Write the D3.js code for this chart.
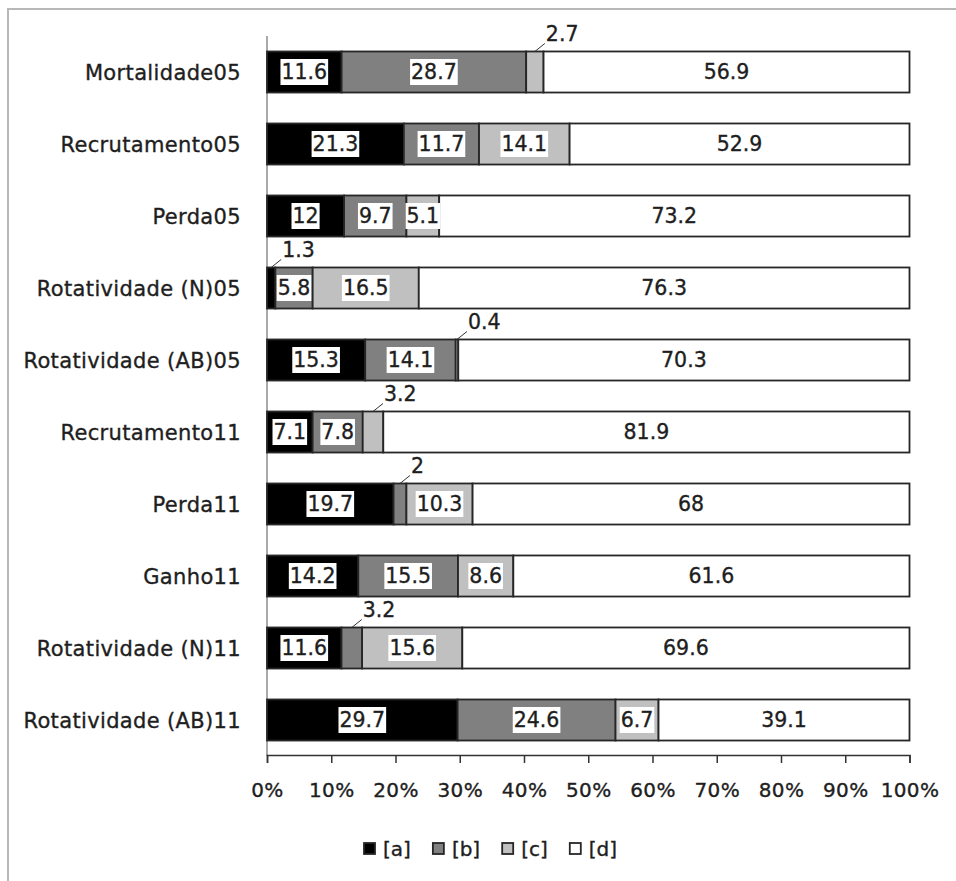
<!DOCTYPE html>
<html>
<head>
<meta charset="utf-8">
<script src="https://cdn.jsdelivr.net/npm/d3@7"></script>
<style>
  html, body { margin: 0; padding: 0; background: #fff; }
  svg { display: block; }
  text { font-family: "DejaVu Sans", Verdana, sans-serif; fill: #1e1e1e;
         stroke: #1e1e1e; stroke-width: 0.35px; }
</style>
</head>
<body>
<svg id="chart" width="956" height="881"></svg>
<script>
// Categories, top to bottom
const categories = [
  "Mortalidade05", "Recrutamento05", "Perda05", "Rotatividade (N)05",
  "Rotatividade (AB)05", "Recrutamento11", "Perda11", "Ganho11",
  "Rotatividade (N)11", "Rotatividade (AB)11"
];
const seriesNames = ["[a]", "[b]", "[c]", "[d]"];
const seriesA = [11.6, 21.3, 12, 1.3, 15.3, 7.1, 19.7, 14.2, 11.6, 29.7];
const seriesB = [28.7, 11.7, 9.7, 5.8, 14.1, 7.8, 2, 15.5, 3.2, 24.6];
const seriesC = [2.7, 14.1, 5.1, 16.5, 0.4, 3.2, 10.3, 8.6, 15.6, 6.7];
const seriesD = [56.9, 52.9, 73.2, 76.3, 70.3, 81.9, 68, 61.6, 69.6, 39.1];
const tickValues = [0, 0.1, 0.2, 0.3, 0.4, 0.5, 0.6, 0.7, 0.8, 0.9, 1];
const colors = ["#000000", "#808080", "#c0c0c0", "#ffffff"];

const rows = categories.map((c, i) => ({
  cat: c, "[a]": seriesA[i], "[b]": seriesB[i], "[c]": seriesC[i], "[d]": seriesD[i]
}));

const svg = d3.select("#chart");

// chart frame (right and bottom edges fall outside the page)
svg.append("rect")
  .attr("x", 8).attr("y", 9).attr("width", 1100).attr("height", 1100)
  .attr("fill", "none").attr("stroke", "#b8b8b8").attr("stroke-width", 2);

const x = d3.scaleLinear().domain([0, 1]).range([267, 909.5]);
const y = d3.scaleBand().domain(categories).range([36, 756]).paddingInner(0.43).paddingOuter(0.215);

const stack = d3.stack().keys(seriesNames).offset(d3.stackOffsetExpand);
const layers = stack(rows);

// vertical category axis line
svg.append("line")
  .attr("x1", x(0)).attr("x2", x(0)).attr("y1", 36).attr("y2", 756)
  .attr("stroke", "#8c8c8c").attr("stroke-width", 1.5);

// bars
const g = svg.append("g");
layers.forEach((layer, k) => {
  g.selectAll(null).data(layer).join("rect")
    .attr("x", d => x(d[0]))
    .attr("y", d => y(d.data.cat))
    .attr("width", d => x(d[1]) - x(d[0]))
    .attr("height", y.bandwidth())
    .attr("fill", colors[k])
    .attr("stroke", "#262626")
    .attr("stroke-width", 1.8);
});

// horizontal value axis
const xAxis = d3.axisBottom(x).tickValues(tickValues)
  .tickFormat(d3.format(".0%")).tickSize(8).tickPadding(20);
const ax = svg.append("g").attr("transform", "translate(0,755)").call(xAxis);
ax.select(".domain").attr("stroke", "#333").attr("stroke-width", 1.5);
ax.selectAll(".tick line").attr("stroke", "#333").attr("stroke-width", 1.5);
ax.selectAll(".tick text")
  .attr("font-family", "DejaVu Sans, sans-serif").attr("font-size", 20)
  .attr("fill", "#1e1e1e").attr("letter-spacing", "0.3px");

// category labels
svg.append("g").selectAll("text").data(categories).join("text")
  .attr("x", 241)
  .attr("y", d => y(d) + y.bandwidth() / 2)
  .attr("dy", "0.36em")
  .attr("text-anchor", "end")
  .attr("font-size", 21)
  .attr("letter-spacing", "0.35px")
  .text(d => d);

// data labels
const fontSize = 20.5;
const labels = svg.append("g");
layers.forEach((layer, k) => {
  layer.forEach(d => {
    const raw = d.data[layer.key];
    const x0 = x(d[0]), x1 = x(d[1]);
    const cx = (x0 + x1) / 2;
    const top = y(d.data.cat);
    const cy = top + y.bandwidth() / 2;
    const t = labels.append("text")
      .attr("font-size", fontSize)
      .attr("dy", "0.36em")
      .text(String(raw));
    const w = t.node().getComputedTextLength();
    if (x1 - x0 < 22) {
      // narrow segment: label sits above the bar with a leader line
      t.attr("x", cx + 11).attr("y", top - 18);
      labels.append("line")
        .attr("x1", cx).attr("y1", top)
        .attr("x2", cx + 10).attr("y2", top - 8)
        .attr("stroke", "#333").attr("stroke-width", 1);
    } else {
      t.attr("x", cx).attr("y", cy).attr("text-anchor", "middle");
      if (k < 3) {
        labels.insert("rect", () => t.node())
          .attr("x", cx - w / 2 - 1).attr("y", cy - 13)
          .attr("width", w + 2).attr("height", 26)
          .attr("fill", "#fff");
      }
    }
  });
});

// legend
const legend = svg.append("g").attr("transform", "translate(0,849)");
let lx = 364;
seriesNames.forEach((name, k) => {
  legend.append("rect")
    .attr("x", lx).attr("y", -6).attr("width", 11).attr("height", 11)
    .attr("fill", colors[k]).attr("stroke", "#262626").attr("stroke-width", 1.8);
  const t = legend.append("text")
    .attr("x", lx + 19).attr("y", 0).attr("dy", "0.36em")
    .attr("font-size", 20).text(name);
  lx += 19 + t.node().getComputedTextLength() + 22;
});
</script>
</body>
</html>
